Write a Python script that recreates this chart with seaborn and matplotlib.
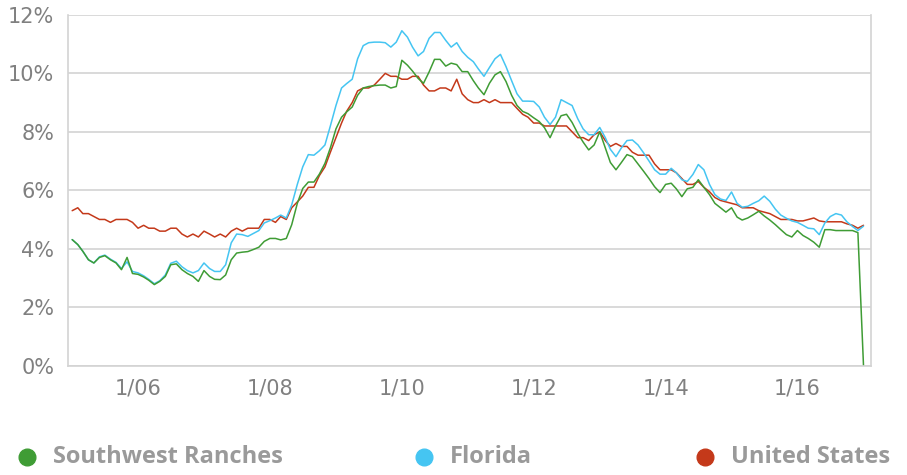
import matplotlib
matplotlib.use("Agg")
import matplotlib.pyplot as plt
import matplotlib.dates as mdates
from matplotlib.lines import Line2D
from matplotlib.ticker import FuncFormatter
import numpy as np
import pandas as pd
import seaborn as sns

# monthly unemployment rate, Jan 2005 .. Jan 2017
months = pd.date_range("2005-01-01", periods=145, freq="MS")

southwest_ranches = [
    4.31, 4.14, 3.91, 3.62, 3.51, 3.70, 3.76, 3.62, 3.51, 3.28, 3.70, 3.15,
    3.12, 3.03, 2.92, 2.77, 2.88, 3.05, 3.45, 3.48, 3.28, 3.15, 3.05, 2.88,
    3.25, 3.05, 2.95, 2.94, 3.10, 3.62, 3.85, 3.88, 3.90, 3.97, 4.05, 4.25,
    4.35, 4.35, 4.30, 4.35, 4.82, 5.55, 6.06, 6.28, 6.28, 6.55, 6.92, 7.45,
    8.10, 8.50, 8.68, 8.85, 9.25, 9.50, 9.55, 9.58, 9.60, 9.60, 9.50, 9.55,
    10.45, 10.28, 10.08, 9.83, 9.66, 10.05, 10.48, 10.48, 10.25, 10.35, 10.30, 10.06,
    10.06, 9.75, 9.50, 9.27, 9.66, 9.95, 10.06, 9.72, 9.25, 8.90, 8.70, 8.62,
    8.48, 8.35, 8.14, 7.80, 8.20, 8.55, 8.60, 8.32, 7.95, 7.65, 7.38, 7.55,
    8.00, 7.45, 6.95, 6.70, 6.95, 7.22, 7.15, 6.90, 6.65, 6.40, 6.12, 5.92,
    6.20, 6.24, 6.05, 5.78, 6.05, 6.10, 6.36, 6.10, 5.85, 5.55, 5.40, 5.25,
    5.40, 5.08, 4.98, 5.05, 5.16, 5.28, 5.12, 4.98, 4.82, 4.65, 4.48, 4.40,
    4.62, 4.45, 4.35, 4.22, 4.05, 4.65, 4.65, 4.62, 4.62, 4.62, 4.62, 4.55,
    0.0,
]

florida = [
    4.31, 4.14, 3.91, 3.62, 3.51, 3.72, 3.78, 3.64, 3.53, 3.32, 3.55, 3.22,
    3.17, 3.07, 2.95, 2.80, 2.90, 3.10, 3.50, 3.57, 3.38, 3.25, 3.17, 3.25,
    3.51, 3.32, 3.22, 3.22, 3.45, 4.20, 4.50, 4.48, 4.42, 4.52, 4.62, 4.88,
    4.96, 5.05, 5.15, 5.05, 5.50, 6.20, 6.80, 7.22, 7.20, 7.35, 7.55, 8.20,
    8.90, 9.50, 9.65, 9.80, 10.50, 10.95, 11.05, 11.07, 11.07, 11.05, 10.90, 11.07,
    11.46, 11.24, 10.90, 10.60, 10.75, 11.20, 11.40, 11.40, 11.13, 10.90, 11.05, 10.75,
    10.55, 10.40, 10.15, 9.90, 10.20, 10.50, 10.65, 10.23, 9.75, 9.30, 9.05, 9.05,
    9.04, 8.85, 8.50, 8.25, 8.50, 9.10, 9.00, 8.90, 8.45, 8.10, 7.90, 7.90,
    8.15, 7.80, 7.40, 7.15, 7.45, 7.70, 7.72, 7.55, 7.28, 7.00, 6.70, 6.55,
    6.55, 6.75, 6.60, 6.36, 6.30, 6.54, 6.88, 6.70, 6.20, 5.85, 5.70, 5.65,
    5.94, 5.55, 5.42, 5.45, 5.55, 5.64, 5.80, 5.62, 5.35, 5.15, 5.04, 4.95,
    4.90, 4.80, 4.70, 4.68, 4.48, 4.88, 5.10, 5.20, 5.15, 4.92, 4.76, 4.62,
    4.77,
]

united_states = [
    5.3, 5.4, 5.2, 5.2, 5.1, 5.0, 5.0, 4.9, 5.0, 5.0, 5.0, 4.9,
    4.7, 4.8, 4.7, 4.7, 4.6, 4.6, 4.7, 4.7, 4.5, 4.4, 4.5, 4.4,
    4.6, 4.5, 4.4, 4.5, 4.4, 4.6, 4.7, 4.6, 4.7, 4.7, 4.7, 5.0,
    5.0, 4.9, 5.1, 5.0, 5.4, 5.6, 5.8, 6.1, 6.1, 6.5, 6.8, 7.3,
    7.8, 8.3, 8.7, 9.0, 9.4, 9.5, 9.5, 9.6, 9.8, 10.0, 9.9, 9.9,
    9.8, 9.8, 9.9, 9.9, 9.6, 9.4, 9.4, 9.5, 9.5, 9.4, 9.8, 9.3,
    9.1, 9.0, 9.0, 9.1, 9.0, 9.1, 9.0, 9.0, 9.0, 8.8, 8.6, 8.5,
    8.3, 8.3, 8.2, 8.2, 8.2, 8.2, 8.2, 8.0, 7.8, 7.8, 7.7, 7.9,
    8.0, 7.7, 7.5, 7.6, 7.5, 7.5, 7.3, 7.2, 7.2, 7.2, 6.9, 6.7,
    6.7, 6.7, 6.6, 6.4, 6.2, 6.2, 6.3, 6.1, 5.95, 5.75, 5.65, 5.6,
    5.55, 5.5, 5.4, 5.4, 5.4, 5.3, 5.25, 5.2, 5.1, 5.0, 5.0, 5.0,
    4.95, 4.95, 5.0, 5.05, 4.95, 4.92, 4.92, 4.92, 4.92, 4.85, 4.8, 4.7,
    4.8,
]

series_names = ["Southwest Ranches", "Florida", "United States"]
series_colors = ["#3f9c35", "#45c5f2", "#c4391a"]
y_ticks = [0, 2, 4, 6, 8, 10, 12]
x_tick_years = [2006, 2008, 2010, 2012, 2014, 2016]

df = pd.concat([
    pd.DataFrame({"date": months, "rate": vals, "area": name})
    for name, vals in zip(series_names, [southwest_ranches, florida, united_states])
])

sns.set_style("white")

fig = plt.figure(figsize=(9.07, 4.75), dpi=100)
ax = fig.add_axes([0.075, 0.2305, 0.885, 0.738])

grid_col = "#d3d3d3"
for y in y_ticks:
    ax.axhline(y, color=grid_col, linewidth=1.2, zorder=0)

# draw US first, then Florida, then Southwest Ranches on top
sns.lineplot(data=df, x="date", y="rate", hue="area",
             hue_order=series_names[::-1],
             palette=dict(zip(series_names, series_colors)),
             linewidth=1.1, legend=False, ax=ax)

ax.set_ylim(0, 12)
ax.set_xlim(pd.Timestamp("2004-12-09"), pd.Timestamp("2017-02-10"))
ax.set_yticks(y_ticks)
ax.yaxis.set_major_formatter(FuncFormatter(lambda v, p: f"{int(v)}%"))
ax.set_xticks([pd.Timestamp(f"{y}-01-01") for y in x_tick_years])
ax.xaxis.set_major_formatter(mdates.DateFormatter("1/%y"))
ax.set_xlabel("")
ax.set_ylabel("")

for s in ["left", "right", "bottom"]:
    ax.spines[s].set_color(grid_col)
    ax.spines[s].set_linewidth(1.2)
ax.spines["top"].set_visible(False)

tick_font = ["Liberation Sans Narrow", "DejaVu Sans"]
ax.tick_params(axis="y", length=7, width=1.2, color=grid_col, pad=3,
               labelsize=15, labelcolor="#808080")
ax.tick_params(axis="x", length=0, pad=9, labelsize=15, labelcolor="#808080")
for lab in ax.get_xticklabels() + ax.get_yticklabels():
    lab.set_family(tick_font)

# legend along the bottom
legend_x = [27, 424, 705]
for x, name, col in zip(legend_x, series_names, series_colors):
    fig.add_artist(Line2D([x / 907], [1 - 457 / 475], marker="o", markersize=12,
                          color=col, linestyle="none", transform=fig.transFigure))
    fig.text((x + 26) / 907, 1 - 457 / 475, name, fontsize=17, fontweight="bold",
             color="#9a9a9a", va="center", ha="left",
             family=["Open Sans", "DejaVu Sans"])

fig.savefig("out.png", dpi=100)
